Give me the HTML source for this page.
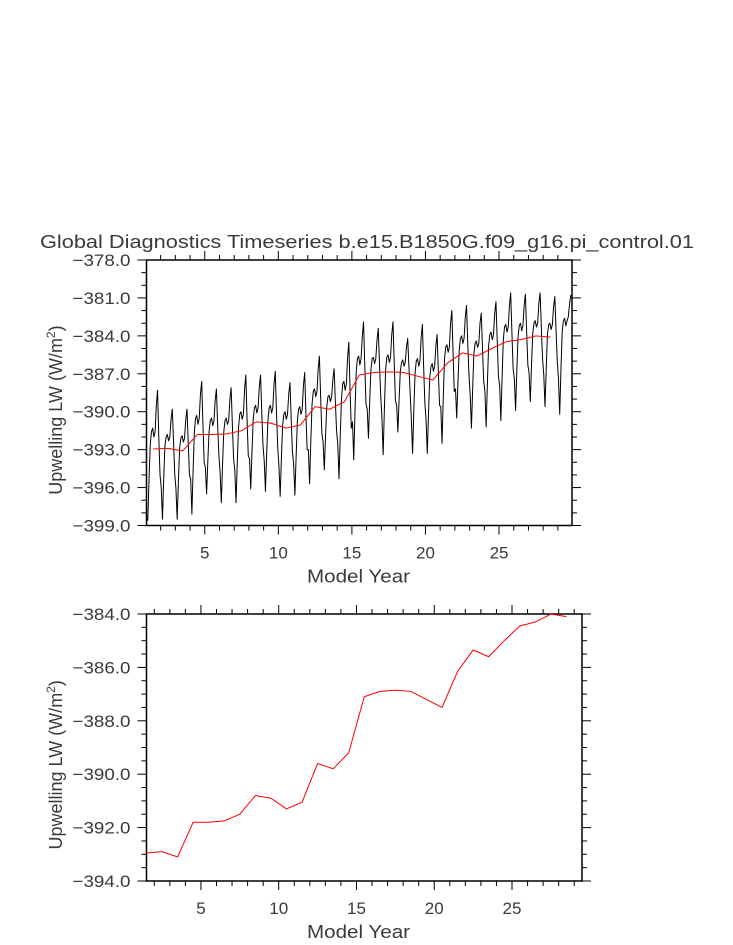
<!DOCTYPE html>
<html><head><meta charset="utf-8"><style>
html,body{margin:0;padding:0;background:#fff;}
svg{display:block;}
text{font-family:"Liberation Sans",sans-serif;fill:#3a3a3a;}
</style></head><body>
<svg id="c" width="733" height="945" xmlns="http://www.w3.org/2000/svg">
<text x="40" y="248" font-size="18" textLength="654" lengthAdjust="spacingAndGlyphs">Global Diagnostics Timeseries b.e15.B1850G.f09_g16.pi_control.01</text>
</svg>
<script>
// Monthly values (rows = years 1..29, Jan..Dec)
const monthlyY1to10 = [
[-398.3,-398.6,-395.5,-392.7,-391.6,-391.3,-392.0,-391.6,-389.5,-388.3,-392.0,-395.0],
[-396.0,-398.5,-395.4,-392.7,-392.0,-391.8,-392.3,-392.0,-390.6,-389.8,-392.3,-394.9],
[-396.1,-398.5,-395.5,-392.9,-392.1,-391.9,-392.4,-392.1,-390.6,-389.8,-392.4,-395.0],
[-395.3,-398.1,-394.6,-391.6,-390.5,-390.3,-391.0,-390.5,-388.6,-387.6,-391.0,-394.0],
[-394.4,-396.5,-393.9,-391.6,-390.7,-390.5,-391.1,-390.7,-389.1,-388.2,-391.1,-393.4],
[-394.8,-397.2,-394.2,-391.6,-390.7,-390.5,-391.0,-390.7,-389.0,-388.1,-391.0,-393.7],
[-394.6,-397.2,-394.1,-391.3,-390.2,-390.0,-390.6,-390.2,-388.2,-387.1,-390.6,-393.5],
[-393.7,-396.1,-393.2,-390.6,-389.7,-389.5,-390.1,-389.7,-388.0,-387.1,-390.1,-392.7],
[-393.9,-396.3,-393.3,-390.7,-389.7,-389.5,-390.1,-389.7,-387.8,-386.8,-390.1,-392.8],
[-394.3,-396.7,-393.7,-391.1,-390.2,-390.0,-390.6,-390.2,-388.6,-387.7,-390.6,-393.2]];
const monthlyY11to20 = [
[-394.1,-396.6,-393.6,-390.8,-389.8,-389.6,-390.2,-389.8,-387.9,-386.9,-390.2,-393.0],
[-393.0,-395.7,-392.3,-389.4,-388.4,-388.2,-388.8,-388.4,-386.6,-385.6,-388.8,-391.7],
[-392.4,-394.6,-392.0,-389.6,-388.8,-388.7,-389.2,-388.8,-387.4,-386.6,-389.2,-391.5],
[-392.6,-395.3,-391.9,-389.0,-387.8,-387.6,-388.3,-387.8,-385.7,-384.5,-388.3,-391.3],
[-390.8,-393.8,-390.1,-386.9,-385.8,-385.6,-386.3,-385.8,-384.0,-382.9,-386.3,-389.4],
[-389.8,-392.1,-389.2,-386.7,-385.8,-385.7,-386.2,-385.8,-384.3,-383.4,-386.2,-388.7],
[-390.5,-393.4,-389.8,-386.7,-385.7,-385.5,-386.1,-385.7,-383.9,-382.9,-386.1,-389.1],
[-389.5,-391.6,-389.0,-386.8,-386.1,-385.9,-386.4,-386.1,-384.9,-384.2,-386.4,-388.5],
[-390.6,-393.3,-389.9,-387.0,-386.0,-385.8,-386.4,-386.0,-384.1,-383.1,-386.4,-389.3],
[-390.7,-393.3,-390.1,-387.3,-386.4,-386.2,-386.8,-386.4,-384.8,-383.9,-386.8,-389.5]];
const monthlyY21to29 = [
[-389.6,-392.5,-389.0,-385.9,-384.9,-384.7,-385.3,-384.9,-383.0,-382.0,-385.3,-388.4],
[-388.2,-390.5,-387.7,-385.2,-384.2,-384.0,-384.6,-384.2,-382.5,-381.6,-384.6,-387.1],
[-388.7,-391.3,-388.2,-385.4,-384.6,-384.4,-384.9,-384.6,-383.0,-382.2,-384.9,-387.6],
[-388.4,-391.2,-387.8,-384.8,-383.9,-383.7,-384.3,-383.9,-382.2,-381.3,-384.3,-387.2],
[-387.9,-390.7,-387.3,-384.3,-383.3,-383.1,-383.7,-383.3,-381.6,-380.6,-383.7,-386.6],
[-387.4,-389.9,-386.8,-384.1,-383.2,-383.0,-383.6,-383.2,-381.6,-380.7,-383.6,-386.3],
[-386.9,-389.2,-386.3,-383.8,-383.0,-382.8,-383.3,-383.0,-381.4,-380.6,-383.3,-385.8],
[-387.1,-389.6,-386.6,-383.9,-383.1,-383.0,-383.5,-383.1,-381.7,-380.9,-383.5,-386.0],
[-387.4,-390.2,-386.7,-383.7,-382.8,-382.6,-383.2,-382.8,-382.5,-381.5,-380.8,-380.9]];
// Annual means at year+0.5
const annualYears = [1.5,2.5,3.5,4.5,5.5,6.5,7.5,8.5,9.5,10.5,11.5,12.5,13.5,14.5,15.5,16.5,17.5,18.5,19.5,20.5,21.5,22.5,23.5,24.5,25.5,26.5,27.5,28.5];
const annualMeans = [-392.95,-392.9,-393.1,-391.8,-391.8,-391.75,-391.5,-390.8,-390.9,-391.3,-391.05,-389.6,-389.8,-389.2,-387.1,-386.9,-386.85,-386.9,-387.2,-387.5,-386.15,-385.35,-385.6,-385.0,-384.45,-384.3,-384.0,-384.1];
const xTickLabels = ["5","10","15","20","25"];
const topYTickLabels = ["-378.0","-381.0","-384.0","-387.0","-390.0","-393.0","-396.0","-399.0"];
const botYTickLabels = ["-384.0","-386.0","-388.0","-390.0","-392.0","-394.0"];

const NS="http://www.w3.org/2000/svg";
const svgEl=document.getElementById('c');
function mk(tag,attrs,parent){const e=document.createElementNS(NS,tag);for(const k in attrs)e.setAttribute(k,attrs[k]);(parent||svgEl).appendChild(e);return e;}

function drawPanel(p){
  const g=mk('g',{});
  
  
  const sx=v=>p.x0+(v-p.xmin)/(p.xmax-p.xmin)*(p.x1-p.x0);
  const sy=v=>p.y0+(p.ymax-v)/(p.ymax-p.ymin)*(p.y1-p.y0);
  for(let v=Math.ceil(p.xmin);v<=p.xmax;v++){
    const maj=v%5===0, L=maj?9:5, x=sx(v);
    mk('line',{x1:x,y1:p.y1,x2:x,y2:p.y1+L,stroke:'#000','stroke-width':1},g);
    mk('line',{x1:x,y1:p.y0,x2:x,y2:p.y0-L,stroke:'#000','stroke-width':1},g);
  }
  xTickLabels.forEach(s=>{
    const t=mk('text',{x:sx(+s),y:p.y1+33,'font-size':17,'text-anchor':'middle'},g);
    
    
    t.textContent=s;
  });
  const n=Math.round((p.ymax-p.ymin)/p.minor);
  for(let i=0;i<=n;i++){
    const v=p.ymax-i*p.minor, y=sy(v);
    const r=(p.ymax-v)/p.major;
    const maj=Math.abs(r-Math.round(r))<1e-6, L=maj?9:5;
    mk('line',{x1:p.x0,y1:y,x2:p.x0-L,y2:y,stroke:'#000','stroke-width':1},g);
    mk('line',{x1:p.x1,y1:y,x2:p.x1+L,y2:y,stroke:'#000','stroke-width':1},g);
  }
  p.ylabels.forEach(s=>{
    const t=mk('text',{x:p.x0-74,y:sy(+s)+6,'font-size':17,textLength:58,lengthAdjust:'spacingAndGlyphs'},g);
    
    
    t.textContent=s.replace('-','\u2212');
  });
  const f=mk('rect',{x:p.x0,y:p.y0,width:p.x1-p.x0,height:p.y1-p.y0,fill:'none',stroke:'#000','stroke-width':1.5},g);
  
  
  const xt=mk('text',{x:p.xtX-51,y:p.y1+57,'font-size':18,textLength:103,lengthAdjust:'spacingAndGlyphs'},g);
  
  
  xt.textContent='Model Year';
  const cy=(p.y0+p.y1)/2;
  const yt=mk('text',{x:cy-102,y:62,'font-size':18,transform:'rotate(-90 '+(cy)+' '+(cy)+') translate(0 0)'},g);
  
  
  yt.setAttribute('transform','translate(62 '+(cy+102)+') rotate(-90)');
  yt.setAttribute('x','0');
  yt.setAttribute('y','0');
  yt.innerHTML='Upwelling LW (W/m<tspan dy="-7" font-size="12">2</tspan><tspan dy="7">)</tspan>';
  return {g,sx,sy};
}

const topPanel=drawPanel({name:'monthly-panel',x0:146.5,x1:572,y0:260,y1:525.5,xmin:1.04,xmax:29.96,ymin:-399,ymax:-378,major:3,minor:1,ylabels:topYTickLabels,xtX:358});
const allMonthly=monthlyY1to10.concat(monthlyY11to20,monthlyY21to29);
const pts=[];
allMonthly.forEach((row,yi)=>row.forEach((v,m)=>{pts.push(topPanel.sx(yi+1+(m+0.5)/12).toFixed(2)+','+topPanel.sy(v).toFixed(2));}));
const ml=mk('polyline',{points:pts.join(' '),fill:'none',stroke:'#000','stroke-width':1,'stroke-linejoin':'round'},topPanel.g);


const al=mk('polyline',{points:annualYears.map((x,i)=>topPanel.sx(x).toFixed(2)+','+topPanel.sy(annualMeans[i]).toFixed(2)).join(' '),fill:'none',stroke:'#ff0000','stroke-width':1},topPanel.g);



const botPanel=drawPanel({name:'annual-panel',x0:146.5,x1:582,y0:614,y1:881,xmin:1.5,xmax:29.5,ymin:-394,ymax:-384,major:2,minor:0.5,ylabels:botYTickLabels,xtX:358});
const bl=mk('polyline',{points:annualYears.map((x,i)=>botPanel.sx(x).toFixed(2)+','+botPanel.sy(annualMeans[i]).toFixed(2)).join(' '),fill:'none',stroke:'#ff0000','stroke-width':1},botPanel.g);


</script>
</body></html>
